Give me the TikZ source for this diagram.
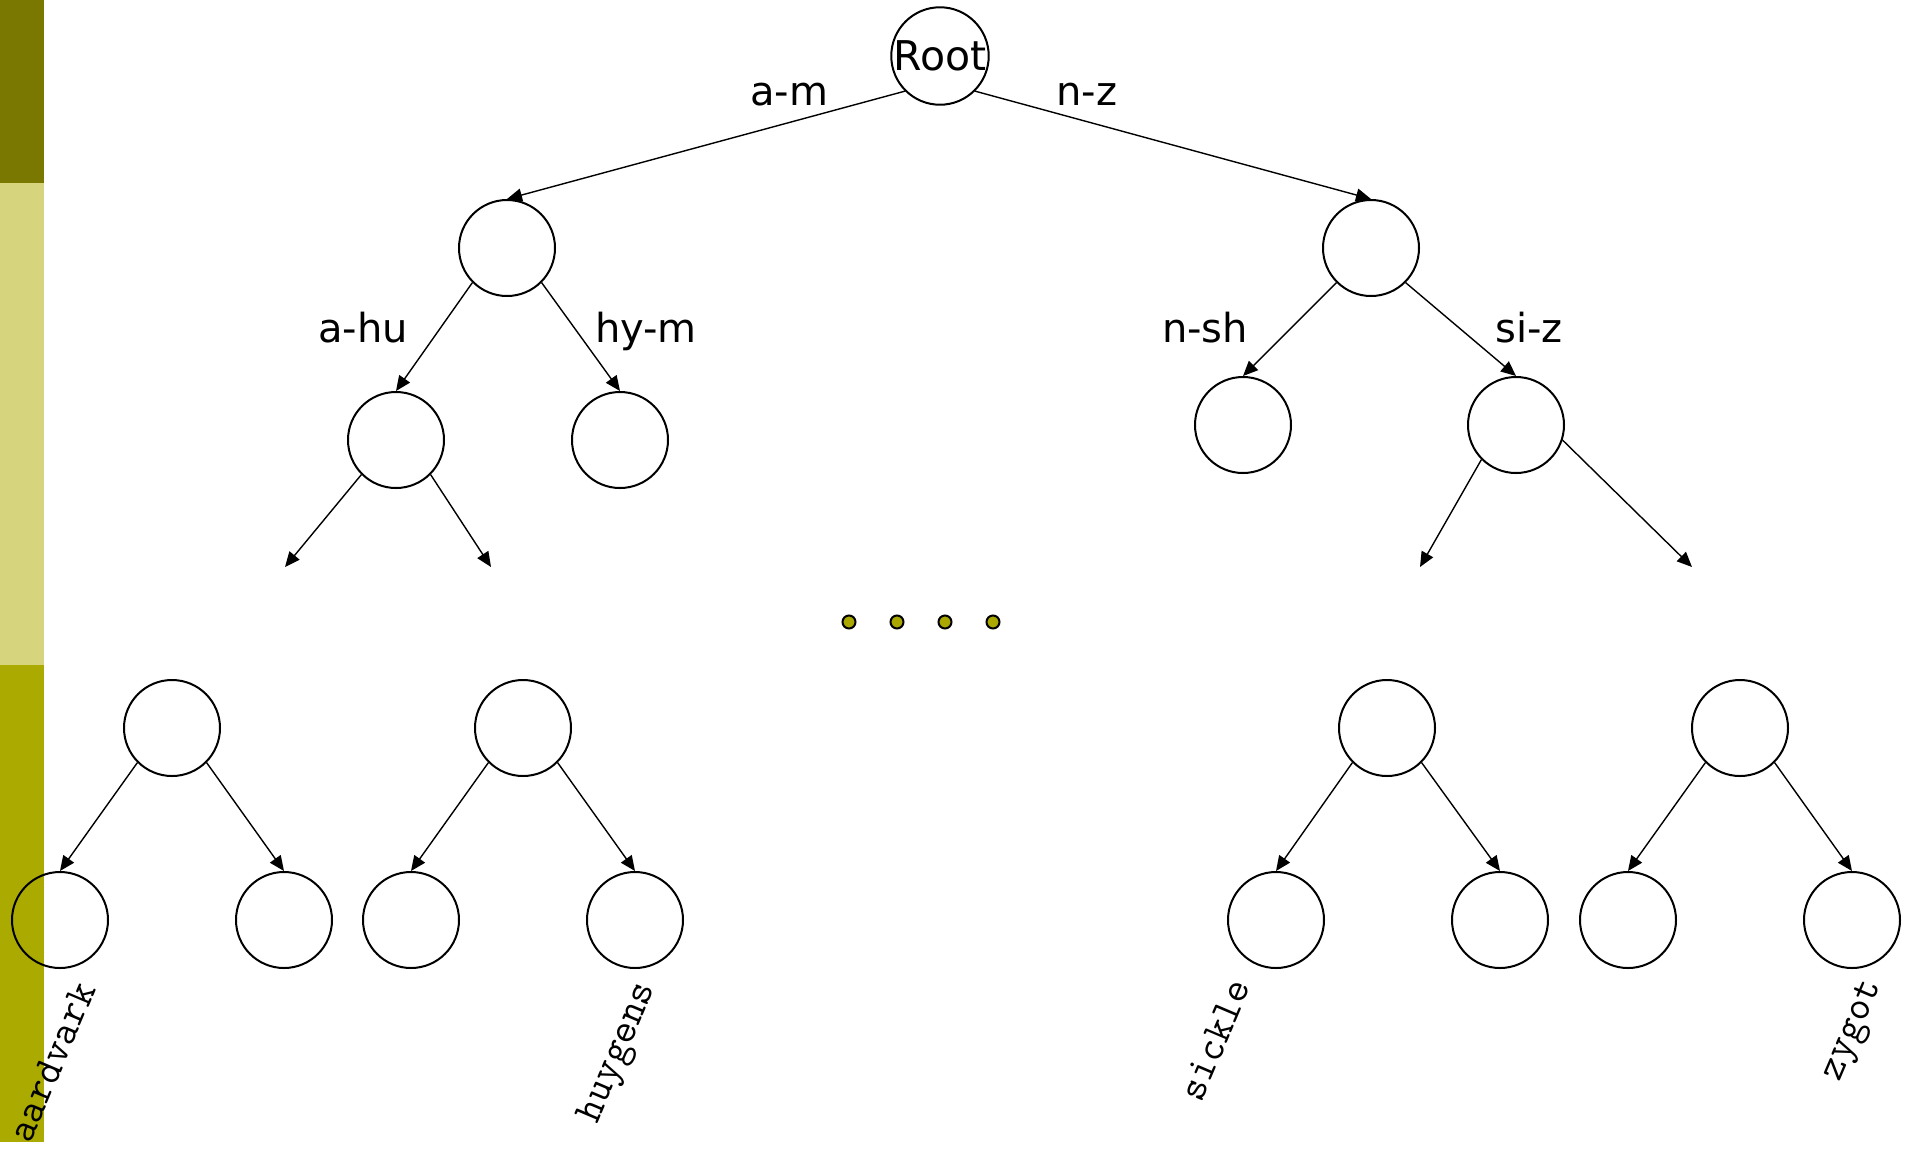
\documentclass[tikz,border=0pt]{standalone}
\usepackage{fontspec}
\setmainfont{DejaVu Sans}
\usetikzlibrary{arrows.meta}
\definecolor{bardark}{RGB}{122,120,0}
\definecolor{barlight}{RGB}{214,212,124}
\definecolor{barmid}{RGB}{170,170,0}
\definecolor{dotfill}{RGB}{170,168,0}
\tikzset{
  tnode/.style={circle, draw=black, line width=1pt, minimum size=48pt, inner sep=0pt},
  conn/.style={line width=0.7pt, -{Triangle[length=7.5pt,width=6.5pt]}},
  rangelabel/.style={anchor=base, font=\fontsize{20pt}{24pt}\selectfont, inner sep=0pt},
  leafword/.style={rotate=67, font=\ttfamily\fontsize{20.5pt}{24pt}\selectfont, inner sep=0pt},
  dotmark/.style={circle, draw=black, line width=1pt, fill=dotfill, minimum size=6.5pt, inner sep=0pt}
}
\begin{document}
\begin{tikzpicture}[x=0.5pt, y=-0.5pt]
\useasboundingbox (0,0) rectangle (1913,1148);
% side bar
\fill[bardark] (0,0) rectangle (44,183);
\fill[barlight] (0,183) rectangle (44,665);
\fill[barmid] (0,665) rectangle (44,1142);
% tree nodes
\node[tnode, font=\fontsize{20.5pt}{24pt}\selectfont] (root) at (940,56) {Root};
\node[tnode] (l1) at (507,248) {};
\node[tnode] (r1) at (1371,248) {};
\node[tnode] (ll) at (396,440) {};
\node[tnode] (lr) at (620,440) {};
\node[tnode] (rl) at (1243,425) {};
\node[tnode] (rr) at (1516,425) {};
\coordinate (e1) at (285,567);
\coordinate (e2) at (491,567);
\coordinate (e3) at (1420,567);
\coordinate (e4) at (1692,567);
% dots
\node[dotmark] (d1) at (849,622) {};
\node[dotmark] (d2) at (897,622) {};
\node[dotmark] (d3) at (945,622) {};
\node[dotmark] (d4) at (993,622) {};
% level 3
\node[tnode] (a) at (172,728) {};
\node[tnode] (b) at (523,728) {};
\node[tnode] (c) at (1387,728) {};
\node[tnode] (d) at (1740,728) {};
% leaves
\node[tnode] (a1) at (60,920) {};
\node[tnode] (a2) at (284,920) {};
\node[tnode] (b1) at (411,920) {};
\node[tnode] (b2) at (635,920) {};
\node[tnode] (c1) at (1276,920) {};
\node[tnode] (c2) at (1500,920) {};
\node[tnode] (d1l) at (1628,920) {};
\node[tnode] (d2l) at (1852,920) {};
% connectors
\draw[conn] (root.-135) -- (l1.north);
\draw[conn] (root.-45) -- (r1.north);
\draw[conn] (l1.-135) -- (ll.north);
\draw[conn] (l1.-45) -- (lr.north);
\draw[conn] (r1.-135) -- (rl.north);
\draw[conn] (r1.-45) -- (rr.north);
\draw[conn] (ll.-135) -- (e1);
\draw[conn] (ll.-45) -- (e2);
\draw[conn] (rr.-135) -- (e3);
\draw[conn] (rr.-18) -- (e4);
\draw[conn] (a.-135) -- (a1.north);
\draw[conn] (a.-45) -- (a2.north);
\draw[conn] (b.-135) -- (b1.north);
\draw[conn] (b.-45) -- (b2.north);
\draw[conn] (c.-135) -- (c1.north);
\draw[conn] (c.-45) -- (c2.north);
\draw[conn] (d.-135) -- (d1l.north);
\draw[conn] (d.-45) -- (d2l.north);
% range labels
\node[rangelabel] (lam) at (789,105) {a-m};
\node[rangelabel] (lnz) at (1087,105) {n-z};
\node[rangelabel] (lahu) at (363,342) {a-hu};
\node[rangelabel] (lhym) at (646,342) {hy-m};
\node[rangelabel] (lnsh) at (1205,342) {n-sh};
\node[rangelabel] (lsiz) at (1529,342) {si-z};
% leaf words
\node[leafword] (waard) at (52,1062) {aardvark};
\node[leafword] (whuy) at (619,1053) {huygens};
\node[leafword] (wsic) at (1215,1040) {sickle};
\node[leafword] (wzyg) at (1854,1031) {zygot};
\end{tikzpicture}
\end{document}
